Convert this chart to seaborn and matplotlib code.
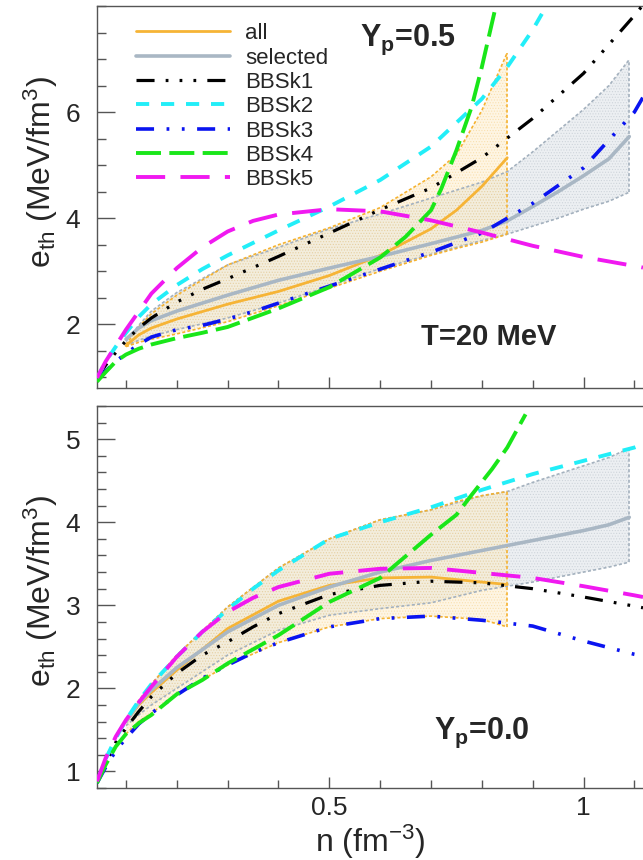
import numpy as np
import pandas as pd
import matplotlib
matplotlib.use("Agg")
import matplotlib.pyplot as plt
import seaborn as sns
from matplotlib.ticker import MultipleLocator

# ---------------- data ----------------
n_grid = [0.043, 0.06, 0.08, 0.1, 0.125, 0.15, 0.2, 0.25, 0.3, 0.35, 0.4, 0.5,
          0.6, 0.7, 0.8, 0.9, 1.0, 1.1, 1.117]

# top panel (Yp=0.5, T=20 MeV)
bbsk1_top = [0.98, 1.23, 1.47, 1.69, 1.93, 2.12, 2.42, 2.66, 2.86, 3.07, 3.28, 3.72,
             4.16, 4.57, 5.14, 5.88, 6.73, 7.82, 8.02]
bbsk3_top = [0.96, 1.12, 1.30, 1.45, 1.62, 1.76, 1.90, 1.98, 2.10, 2.24, 2.40, 2.72,
             3.04, 3.36, 3.72, 4.28, 4.95, 6.00, 6.28]
bbsk5_top = [0.99, 1.30, 1.60, 1.90, 2.24, 2.58, 3.06, 3.45, 3.75, 3.95, 4.07, 4.17,
             4.13, 3.96, 3.73, 3.48, 3.27, 3.10, 3.07]
n_bbsk2_top = [0.043, 0.06, 0.08, 0.1, 0.125, 0.15, 0.2, 0.25, 0.3, 0.4, 0.5,
               0.6, 0.7, 0.75, 0.8, 0.85, 0.9, 0.93]
bbsk2_top = [0.98, 1.30, 1.58, 1.84, 2.14, 2.38, 2.74, 3.04, 3.30, 3.77, 4.22,
             4.72, 5.35, 5.80, 6.25, 6.85, 7.55, 8.05]
n_bbsk4_top = [0.043, 0.06, 0.08, 0.1, 0.125, 0.15, 0.2, 0.25, 0.3, 0.4, 0.5,
               0.6, 0.65, 0.7, 0.72, 0.75, 0.78, 0.8, 0.83]
bbsk4_top = [0.92, 1.10, 1.30, 1.43, 1.54, 1.62, 1.74, 1.84, 1.95, 2.30, 2.70,
             3.26, 3.65, 4.15, 4.55, 5.28, 6.10, 6.85, 8.10]

n_all = [0.1, 0.125, 0.15, 0.2, 0.3, 0.4, 0.5, 0.6, 0.7, 0.75, 0.8, 0.85]
all_top = [1.60, 1.80, 1.93, 2.10, 2.38, 2.62, 2.92, 3.30, 3.80, 4.15, 4.60, 5.14]
all_top_hi = [1.62, 1.95, 2.20, 2.55, 3.12, 3.50, 3.82, 4.20, 4.78, 5.20, 6.03, 7.12]
all_top_lo = [1.58, 1.66, 1.72, 1.82, 2.05, 2.35, 2.68, 3.00, 3.30, 3.43, 3.55, 3.70]

n_sel = [0.1, 0.125, 0.15, 0.2, 0.3, 0.4, 0.5, 0.6, 0.7, 0.8, 0.85, 0.9, 0.95,
         1.0, 1.05, 1.09]
sel_top = [1.72, 1.93, 2.07, 2.25, 2.55, 2.83, 3.06, 3.28, 3.52, 3.77, 3.95, 4.22,
           4.50, 4.80, 5.12, 5.54]
sel_top_hi = [1.68, 1.98, 2.25, 2.60, 3.12, 3.45, 3.80, 4.08, 4.38, 4.68, 4.88,
              5.25, 5.65, 6.05, 6.50, 6.99]
sel_top_lo = [1.60, 1.70, 1.78, 1.90, 2.12, 2.40, 2.72, 3.05, 3.32, 3.58, 3.70,
              3.85, 4.00, 4.17, 4.32, 4.49]

# bottom panel (Yp=0.0)
bbsk1_bot = [0.87, 1.10, 1.35, 1.52, 1.72, 1.90, 2.18, 2.40, 2.56, 2.74, 2.90, 3.13,
             3.24, 3.29, 3.27, 3.20, 3.10, 2.99, 2.97]
bbsk2_bot = [0.87, 1.15, 1.40, 1.62, 1.85, 2.05, 2.38, 2.68, 2.95, 3.20, 3.42, 3.80,
             4.00, 4.18, 4.39, 4.58, 4.74, 4.90, 4.94]
bbsk3_bot = [0.86, 1.05, 1.25, 1.40, 1.57, 1.70, 1.92, 2.12, 2.28, 2.43, 2.55, 2.74,
             2.84, 2.87, 2.82, 2.75, 2.57, 2.41, 2.39]
bbsk5_bot = [0.88, 1.16, 1.42, 1.62, 1.83, 2.02, 2.38, 2.68, 2.92, 3.09, 3.22, 3.38,
             3.44, 3.45, 3.39, 3.33, 3.23, 3.12, 3.10]
n_bbsk4_bot = [0.043, 0.06, 0.08, 0.1, 0.125, 0.15, 0.2, 0.25, 0.3, 0.4, 0.5,
               0.6, 0.7, 0.75, 0.78, 0.82, 0.85, 0.886]
bbsk4_bot = [0.86, 1.08, 1.30, 1.45, 1.58, 1.68, 1.93, 2.10, 2.30, 2.64, 3.04,
             3.33, 3.85, 4.09, 4.33, 4.64, 4.90, 5.30]

all_bot = [1.60, 1.80, 1.95, 2.22, 2.72, 3.05, 3.24, 3.33, 3.34, 3.31, 3.28, 3.25]
all_bot_hi = [1.62, 1.85, 2.05, 2.40, 2.98, 3.45, 3.80, 4.03, 4.15, 4.25, 4.32, 4.37]
all_bot_lo = [1.45, 1.60, 1.70, 1.92, 2.28, 2.55, 2.74, 2.84, 2.87, 2.85, 2.83, 2.74]

sel_bot = [1.60, 1.82, 1.98, 2.25, 2.68, 3.00, 3.22, 3.40, 3.54, 3.66, 3.72, 3.78,
           3.84, 3.90, 3.97, 4.06]
sel_bot_hi = [1.62, 1.85, 2.05, 2.40, 2.98, 3.45, 3.80, 4.03, 4.15, 4.32, 4.37,
              4.48, 4.58, 4.68, 4.78, 4.89]
sel_bot_lo = [1.55, 1.68, 1.80, 2.00, 2.40, 2.70, 2.88, 2.96, 3.03, 3.18, 3.23,
              3.28, 3.34, 3.40, 3.46, 3.52]

labels = ["all", "selected", "BBSk1", "BBSk2", "BBSk3", "BBSk4", "BBSk5"]
yticks_top = [2, 4, 6]
yticks_bot = [1, 2, 3, 4, 5]
xticks = [0.5, 1.0]
xticklabels = ["0.5", "1"]

# ---------------- styling ----------------
sns.set_style("ticks")
plt.rcParams["font.family"] = ["Liberation Sans", "DejaVu Sans"]
plt.rcParams["mathtext.fontset"] = "custom"
plt.rcParams["mathtext.rm"] = "Liberation Sans"
plt.rcParams["mathtext.it"] = "Liberation Sans"
plt.rcParams["mathtext.bf"] = "Liberation Sans:bold"
plt.rcParams["lines.scale_dashes"] = False
plt.rcParams["hatch.linewidth"] = 0.5

C_ALL = "#F6B436"
C_SEL = "#A9B7C4"
styles = {
    "BBSk1": dict(color="black", lw=2.3, ls=(0, (13, 8, 2, 8, 2, 8, 2, 8))),
    "BBSk2": dict(color="#22EEF8", lw=2.8, ls=(0, (9.5, 8.5))),
    "BBSk3": dict(color="#0A14F0", lw=2.6, ls=(0, (13, 9, 2, 9, 2, 9))),
    "BBSk4": dict(color="#19E619", lw=2.8, ls=(0, (18, 6))),
    "BBSk5": dict(color="#F019F0", lw=2.8, ls=(0, (21, 11))),
}

fig = plt.figure(figsize=(6.43, 8.60), dpi=100)
ax_top = fig.add_axes([97 / 643, 1 - 388 / 860, 1 - 97 / 643, 382 / 860])
ax_bot = fig.add_axes([97 / 643, 1 - 788 / 860, 1 - 97 / 643, 382 / 860])


def band(ax, n, lo, hi, face, edge, hatchc):
    ax.fill_between(n, lo, hi, facecolor=face, edgecolor="none", linewidth=0,
                    alpha=0.45, zorder=1)
    ax.fill_between(n, lo, hi, facecolor="none", edgecolor=hatchc, hatch="......",
                    linewidth=0, alpha=0.35, zorder=1)
    bs = (0, (2.2, 1.6))
    ax.plot(n, hi, color=edge, lw=1.2, ls=bs, zorder=2)
    ax.plot(n, lo, color=edge, lw=1.2, ls=bs, zorder=2)
    ax.plot([n[-1], n[-1]], [lo[-1], hi[-1]], color=edge, lw=1.2, ls=bs, zorder=2)


def draw_panel(ax, curves, all_y, all_lo, all_hi, sel_y, sel_lo, sel_hi):
    band(ax, n_sel, sel_lo, sel_hi, "#D6DDE3", "#A4B1BE", "#9FAAB5")
    band(ax, n_all, all_lo, all_hi, "#FDEBC2", "#F5B230", "#F0C060")
    sns.lineplot(x=n_all, y=all_y, ax=ax, color=C_ALL, lw=2.0, label=labels[0],
                 sort=False, estimator=None, zorder=3)
    sns.lineplot(x=n_sel, y=sel_y, ax=ax, color=C_SEL, lw=2.6, label=labels[1],
                 sort=False, estimator=None, zorder=3)
    for name, (xs, ys) in curves.items():
        st = styles[name]
        sns.lineplot(x=xs, y=ys, ax=ax, color=st["color"], lw=st["lw"],
                     linestyle=st["ls"], label=name, sort=False, estimator=None,
                     zorder=4)


draw_panel(ax_top,
           {"BBSk1": (n_grid, bbsk1_top), "BBSk2": (n_bbsk2_top, bbsk2_top),
            "BBSk3": (n_grid, bbsk3_top), "BBSk4": (n_bbsk4_top, bbsk4_top),
            "BBSk5": (n_grid, bbsk5_top)},
           all_top, all_top_lo, all_top_hi, sel_top, sel_top_lo, sel_top_hi)
draw_panel(ax_bot,
           {"BBSk1": (n_grid, bbsk1_bot), "BBSk2": (n_grid, bbsk2_bot),
            "BBSk3": (n_grid, bbsk3_bot), "BBSk4": (n_bbsk4_bot, bbsk4_bot),
            "BBSk5": (n_grid, bbsk5_bot)},
           all_bot, all_bot_lo, all_bot_hi, sel_bot, sel_bot_lo, sel_bot_hi)

for ax in (ax_top, ax_bot):
    ax.set_xlim(0.043, 1.117)
    ax.set_xticks(xticks)
    ax.xaxis.set_minor_locator(MultipleLocator(0.1))
    ax.spines["right"].set_visible(False)
    for s in ("left", "top", "bottom"):
        ax.spines[s].set_color("#555555")
        ax.spines[s].set_linewidth(1.0)
    ax.tick_params(axis="both", which="both", direction="in", color="#555555",
                   labelsize=19, width=1.0)
    ax.tick_params(axis="y", which="major", length=13, pad=12)
    ax.tick_params(axis="y", which="minor", length=6.5)
    ax.tick_params(axis="x", which="major", length=8, pad=6)
    ax.tick_params(axis="x", which="minor", length=5.5)
    ax.set_ylabel(r"e$_{\rm th}$ (MeV/fm$^3$)", fontsize=23)

ax_top.set_ylim(0.8, 8.0)
ax_top.set_yticks(yticks_top)
ax_top.yaxis.set_minor_locator(MultipleLocator(0.5))
ax_top.set_xlabel("")
ax_top.tick_params(axis="x", labelbottom=False)
ax_top.yaxis.set_label_coords(-0.068, 0.565)

ax_bot.set_ylim(0.8, 5.4)
ax_bot.set_yticks(yticks_bot)
ax_bot.yaxis.set_minor_locator(MultipleLocator(0.2))
ax_bot.set_xticklabels(xticklabels)
ax_bot.set_xlabel(r"n (fm$^{-3}$)", fontsize=23, labelpad=2)
ax_bot.yaxis.set_label_coords(-0.068, 0.515)

leg = ax_top.legend(loc="upper left", bbox_to_anchor=(0.072, 0.955), frameon=False,
                    fontsize=16, handlelength=4.2, handletextpad=0.7,
                    labelspacing=0.15, borderpad=0, borderaxespad=0)
ax_bot.get_legend().remove()

ax_top.text(0.56, 7.36, r"Y$_{\mathbf{p}}$=0.5", fontsize=22, fontweight="bold",
            va="center", ha="left")
ax_top.text(0.68, 1.77, "T=20 MeV", fontsize=21, fontweight="bold",
            va="center", ha="left")
ax_bot.text(0.705, 1.46, r"Y$_{\mathbf{p}}$=0.0", fontsize=22, fontweight="bold",
            va="center", ha="left")

fig.savefig("out.png", dpi=100)
